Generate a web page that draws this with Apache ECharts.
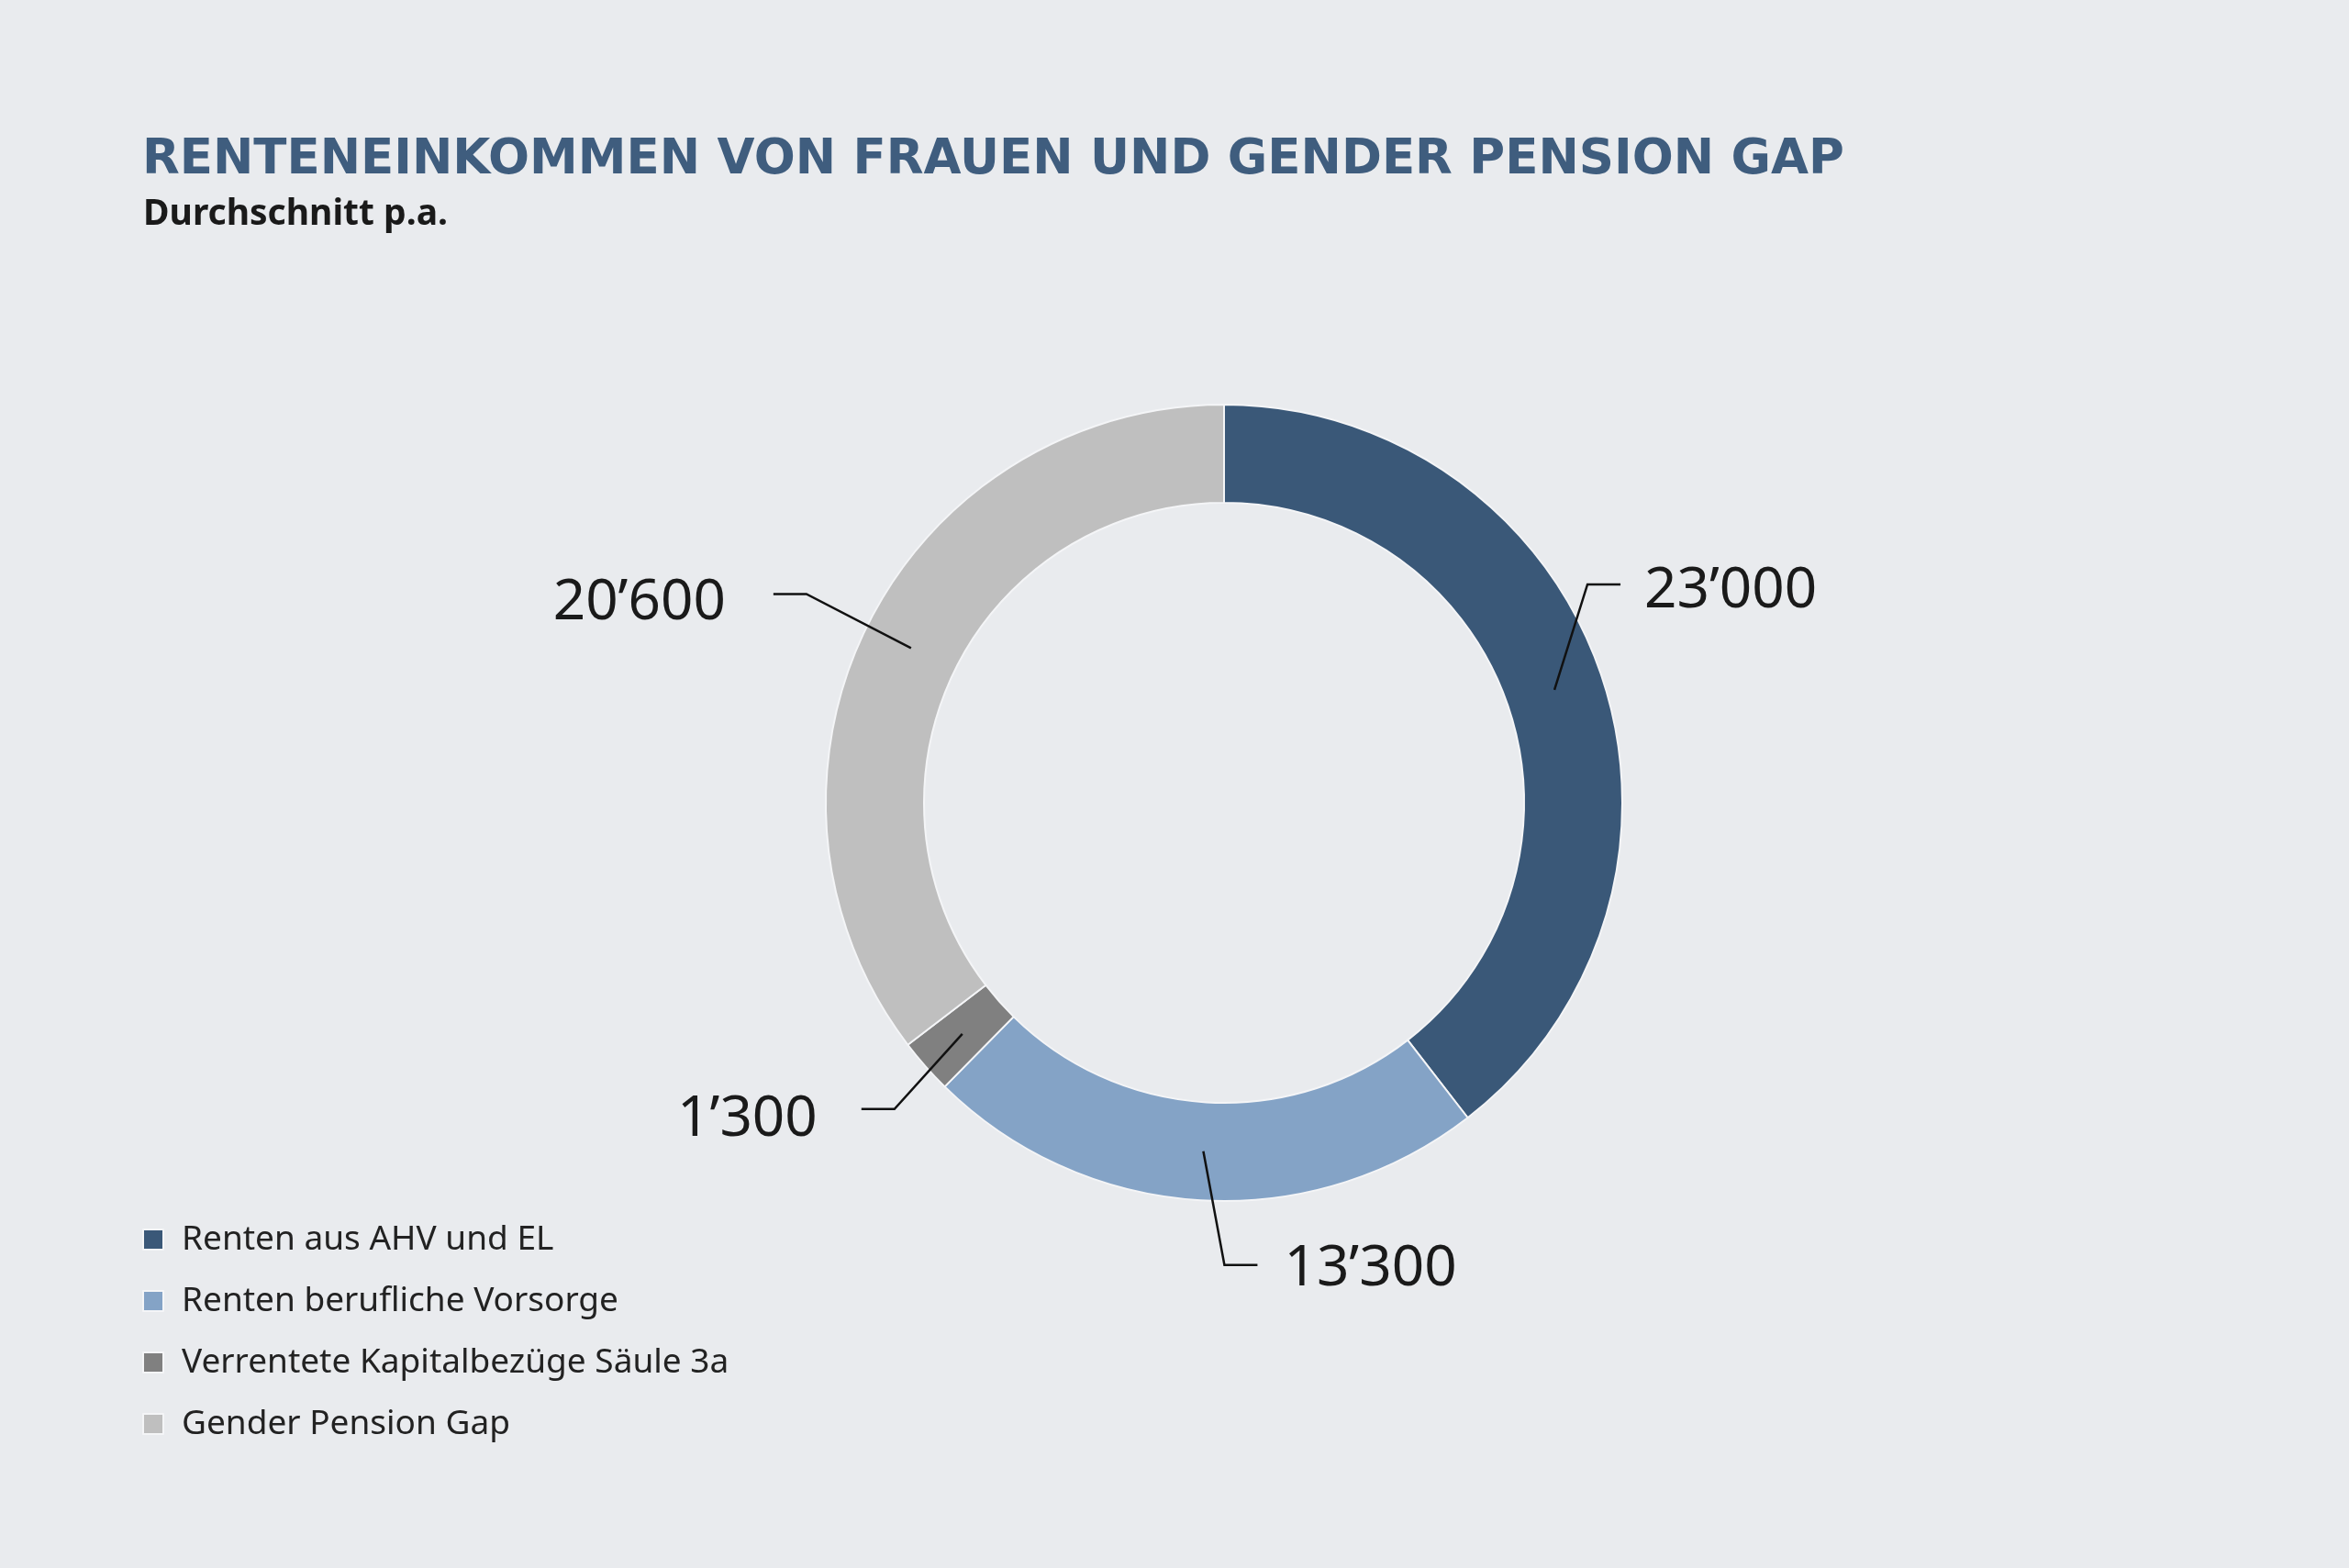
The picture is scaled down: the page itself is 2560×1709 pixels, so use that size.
<!DOCTYPE html>
<html>
<head>
<meta charset="utf-8">
<script src="https://cdn.jsdelivr.net/npm/echarts@6/dist/echarts.min.js"></script>
<style>
html,body{margin:0;padding:0;background:#e9ebee;}
#chart{width:2560px;height:1709px;}
</style>
</head>
<body>
<div id="chart"></div>
<script>
const titleText = 'RENTENEINKOMMEN VON FRAUEN UND GENDER PENSION GAP';
const subtitleText = 'Durchschnitt p.a.';
const categories = ['Renten aus AHV und EL', 'Renten berufliche Vorsorge', 'Verrentete Kapitalbezüge Säule 3a', 'Gender Pension Gap'];
const values = [23000, 13300, 1300, 20600];
const colors = ['#3a5878', '#84a3c6', '#808080', '#bfbfbf'];

function fmt(v) {
  return String(v).replace(/\B(?=(\d{3})+(?!\d))/g, '\u2019');
}

const PIE_CENTER = [1334, 875];
const PIE_RADIUS = [327, 434];
const ANCHOR_R = (PIE_RADIUS[0] + PIE_RADIUS[1]) / 2;

// label line geometry relative to the slice anchor point: [bendDx, bendDy, horizontal dir, text gap, text dy]
const labelGeom = [
  [36, -115, 1, 26, 7],
  [23, 124, 1, 29, 5],
  [-74, 82, -1, 48, 11],
  [-114, -59, -1, 52, 10]
];

const chart = echarts.init(document.getElementById('chart'));
const data = categories.map((c, i) => ({ name: c, value: values[i], itemStyle: { color: colors[i] } }));

chart.setOption({
  backgroundColor: '#e9ebee',
  animation: false,
  title: [
    { text: titleText, left: 150, top: 144,
      textStyle: { fontFamily: 'DejaVu Sans', fontWeight: 'bold', fontSize: 53, color: '#3f5d7e' } },
    { text: subtitleText, left: 151, top: 209,
      textStyle: { fontFamily: 'Noto Sans', fontWeight: 'bold', fontSize: 39, color: '#1a1a1a' } }
  ],
  legend: {
    orient: 'vertical', left: 150, top: 1326,
    icon: 'rect', itemWidth: 22, itemHeight: 22, itemGap: 27,
    textStyle: { fontFamily: 'Noto Sans', fontSize: 37, color: '#222', lineHeight: 40, padding: [0, 0, 0, 15] },
    data: categories.map((c, i) => ({ name: c, itemStyle: { color: colors[i] } })),
    selectedMode: false
  },
  series: [
    {
      type: 'pie', z: 2, center: PIE_CENTER, radius: PIE_RADIUS, startAngle: 90, clockwise: true,
      silent: true, emphasis: { disabled: true },
      itemStyle: { borderColor: '#f4f5f7', borderWidth: 2 },
      label: { show: false }, labelLine: { show: false },
      data: data
    },
    {
      type: 'pie', z: 5, center: PIE_CENTER, radius: [0, ANCHOR_R], startAngle: 90, clockwise: true,
      silent: true, emphasis: { disabled: true }, avoidLabelOverlap: false, legendHoverLink: false,
      itemStyle: { color: 'rgba(0,0,0,0)', borderWidth: 0 },
      label: {
        show: true, position: 'outside', fontFamily: 'Noto Sans', fontSize: 62, color: '#1a1a1a',
        formatter: p => fmt(p.value)
      },
      labelLine: { show: true, length: 40, length2: 36, minTurnAngle: 0, maxSurfaceAngle: 180,
        lineStyle: { color: '#111', width: 2.5 } },
      labelLayout: function (params) {
        const g = labelGeom[params.dataIndex];
        const p0 = params.labelLinePoints[0], p1 = params.labelLinePoints[1];
        let dx = p1[0] - p0[0], dy = p1[1] - p0[1];
        const len = Math.sqrt(dx * dx + dy * dy) || 1;
        dx /= len; dy /= len;
        const s = [PIE_CENTER[0] + dx * ANCHOR_R, PIE_CENTER[1] + dy * ANCHOR_R];
        const bend = [s[0] + g[0], s[1] + g[1]];
        const end = [bend[0] + g[2] * 36, bend[1]];
        return {
          x: end[0] + g[2] * g[3],
          y: bend[1] + g[4],
          align: g[2] > 0 ? 'left' : 'right',
          verticalAlign: 'middle',
          labelLinePoints: [s, bend, end]
        };
      },
      data: categories.map((c, i) => ({ name: c, value: values[i], itemStyle: { color: 'rgba(0,0,0,0)' } }))
    }
  ]
});
</script>
</body>
</html>
